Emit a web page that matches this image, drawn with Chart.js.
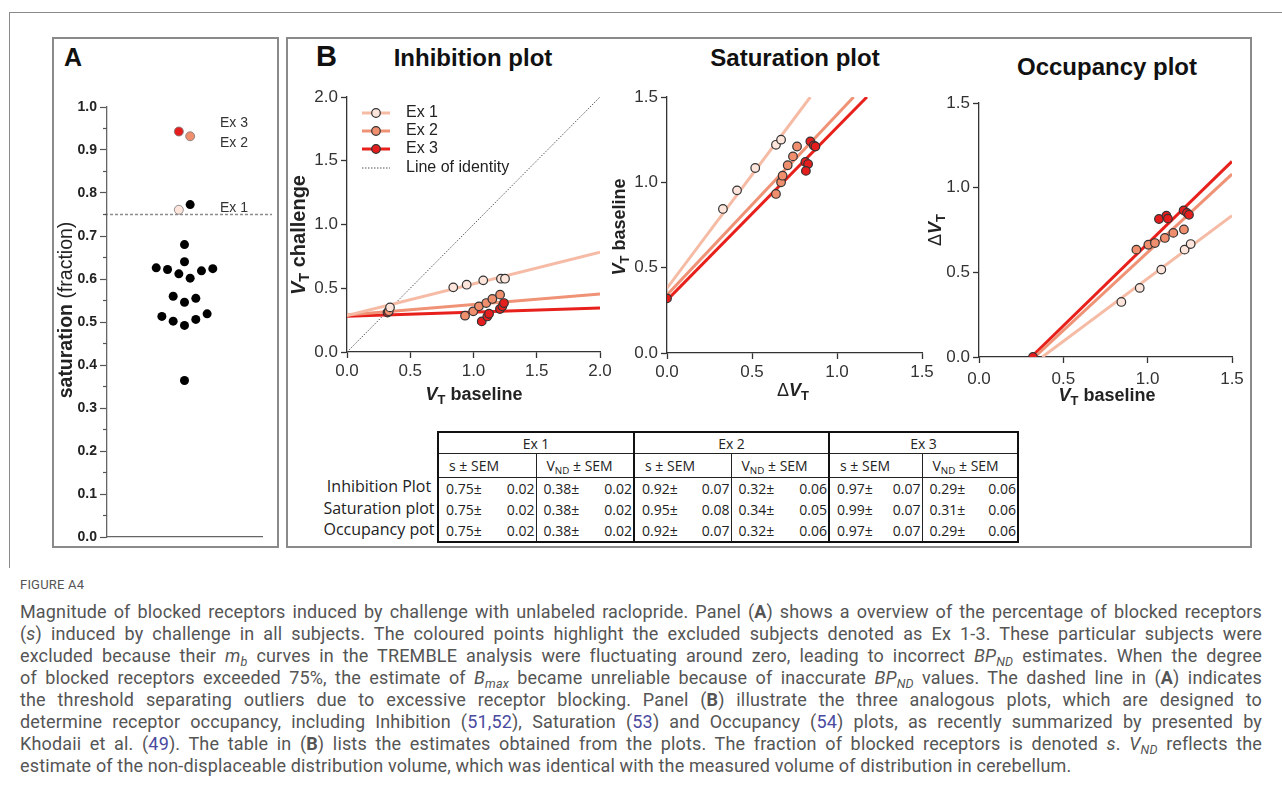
<!DOCTYPE html>
<html>
<head>
<meta charset="utf-8">
<script src="https://cdn.jsdelivr.net/npm/chart.js@4.4.1/dist/chart.umd.min.js"></script>
<style>
  body { margin: 0; width: 1282px; height: 800px; position: relative; overflow: hidden; background: #fff;
         font-family: "Liberation Sans", Arial, sans-serif; color: #222; }
  .abs { position: absolute; }
  .frame { position: absolute; border: 2px solid #8a8a8a; box-sizing: border-box; }
  .panel-letter { position: absolute; font-weight: bold; line-height: 1; color: #111; }
  .title { position: absolute; width: 300px; text-align: center; font-weight: bold; font-size: 24px; line-height: 28px; color: #111; }
  .axt { position: absolute; text-align: center; font-size: 18px; line-height: 22px; font-weight: bold; color: #222; white-space: nowrap; }
  .axt i { font-style: italic; }
  .axt sub { font-size: 0.72em; vertical-align: -0.3em; line-height: 0; }
  .axt .d { font-weight: normal; }
  .rot { transform: rotate(-90deg); transform-origin: 50% 50%; }
  .exlab { position: absolute; font-size: 14px; line-height: 16px; color: #333; }
  canvas { display: block; }
  #tbl { position: absolute; left: 437px; top: 431px; border-collapse: collapse; font-family: "Open Sans", sans-serif;
         font-size: 14px; color: #222; border: 2px solid #111; }
  #tbl td { padding: 0; border-left: 1.5px solid #222; white-space: nowrap; }
  #tbl td.grp { border-left: 2px solid #111; }
  #tbl tr.h1 td { height: 20px; text-align: center; border-bottom: 1.5px solid #222; }
  #tbl tr.h2 td { height: 23px; text-align: left; padding-left: 10px; border-bottom: 1.5px solid #222; }
  #tbl tr.dr td { height: 21px; }
  #tbl sub { font-size: 0.7em; vertical-align: -0.3em; line-height: 0; }
  .cell { display: flex; justify-content: space-between; padding: 0 1px 0 7px; }
  .rowlab { position: absolute; width: 140px; text-align: center; font-family: "Open Sans", sans-serif; font-size: 16px; line-height: 18px; color: #222; }
  #cap { position: absolute; left: 20px; top: 576px; width: 1242px; font-family: Roboto, sans-serif; color: #555; }
  #cap .fig { font-size: 13px; line-height: 18px; margin-bottom: 7px; letter-spacing: 0.2px; }
  #cap .ln { font-size: 18px; line-height: 22px; letter-spacing: 0.15px; text-align: justify; text-align-last: justify; }
  #cap .ln.last { text-align-last: left; }
  #cap sub { font-size: 0.7em; vertical-align: -0.3em; line-height: 0; }
  #cap .ref { color: #4a4aa0; }
</style>
</head>
<body>
<!-- outer figure frame (top and left edge only visible) -->
<div class="abs" style="left:9px; top:12px; width:1300px; border-top:1.5px solid #8a8a8a;"></div>
<div class="abs" style="left:9px; top:12px; height:556px; border-left:1.5px solid #8a8a8a;"></div>

<div class="frame" style="left:52px; top:37px; width:227px; height:511px;"></div>
<div class="frame" style="left:286px; top:37px; width:966px; height:511px;"></div>

<div class="panel-letter" style="left:64px; top:45px; font-size:25px;">A</div>
<div class="panel-letter" style="left:316px; top:42px; font-size:29px;">B</div>

<div class="title" style="left:323px; top:44px;">Inhibition plot</div>
<div class="title" style="left:645px; top:44px;">Saturation plot</div>
<div class="title" style="left:957px; top:53px;">Occupancy plot</div>

<div class="abs" style="left:55px; top:90px;"><canvas id="chartA" width="222" height="465"></canvas></div>
<div class="abs" style="left:290px; top:80px;"><canvas id="chartInh" width="325" height="320"></canvas></div>
<div class="abs" style="left:615px; top:80px;"><canvas id="chartSat" width="325" height="320"></canvas></div>
<div class="abs" style="left:940px; top:80px;"><canvas id="chartOcc" width="310" height="325"></canvas></div>

<!-- panel A annotations -->
<div class="exlab" style="left:220px; top:114px;">Ex 3</div>
<div class="exlab" style="left:220px; top:134px;">Ex 2</div>
<div class="exlab" style="left:220px; top:199px;">Ex 1</div>
<div class="axt rot" style="left:-35px; top:299px; width:200px; font-size:19.5px;">saturation <span class="d">(fraction)</span></div>

<!-- axis titles, panel B -->
<div class="axt" style="left:374px; top:383px; width:200px;"><i>V</i><sub>T</sub> baseline</div>
<div class="axt rot" style="left:198px; top:224px; width:200px; font-size:20px;"><i>V</i><sub>T</sub> challenge</div>
<div class="axt" style="left:693px; top:379px; width:200px;"><span class="d">&Delta;</span><i>V</i><sub>T</sub></div>
<div class="axt rot" style="left:519px; top:216px; width:200px;"><i>V</i><sub>T</sub> baseline</div>
<div class="axt rot" style="left:835px; top:219px; width:200px;"><span class="d">&Delta;</span><i>V</i><sub>T</sub></div>
<div class="axt" style="left:1007px; top:384px; width:200px;"><i>V</i><sub>T</sub> baseline</div>

<!-- estimates table -->
<div id="rowlabs"></div>
<table id="tbl"></table>

<div id="cap">
  <div class="fig">FIGURE A4</div>
  <div class="ln">Magnitude of blocked receptors induced by challenge with unlabeled raclopride. Panel (<b>A</b>) shows a overview of the percentage of blocked receptors</div>
  <div class="ln">(<i>s</i>) induced by challenge in all subjects. The coloured points highlight the excluded subjects denoted as Ex 1-3. These particular subjects were</div>
  <div class="ln">excluded because their <i>m<sub>b</sub></i> curves in the TREMBLE analysis were fluctuating around zero, leading to incorrect <i>BP<sub>ND</sub></i> estimates. When the degree</div>
  <div class="ln">of blocked receptors exceeded 75%, the estimate of <i>B<sub>max</sub></i> became unreliable because of inaccurate <i>BP<sub>ND</sub></i> values. The dashed line in (<b>A</b>) indicates</div>
  <div class="ln">the threshold separating outliers due to excessive receptor blocking. Panel (<b>B</b>) illustrate the three analogous plots, which are designed to</div>
  <div class="ln">determine receptor occupancy, including Inhibition (<span class="ref">51,52</span>), Saturation (<span class="ref">53</span>) and Occupancy (<span class="ref">54</span>) plots, as recently summarized by presented by</div>
  <div class="ln">Khodaii et al. (<span class="ref">49</span>). The table in (<b>B</b>) lists the estimates obtained from the plots. The fraction of blocked receptors is denoted <i>s</i>. <i>V<sub>ND</sub></i> reflects the</div>
  <div class="ln last">estimate of the non-displaceable distribution volume, which was identical with the measured volume of distribution in cerebellum.</div>
</div>

<script>
// ---- panel A: saturation per subject (x = column offset in the swarm) ----
const satBlackX = [1, 0, 0, -5, -3, -1, 1, 3, 5, -2, 0, 2, -4, -2, 0, 2, 4, 0];
const satBlackY = [0.773, 0.680, 0.640, 0.626, 0.622, 0.612, 0.602, 0.619, 0.624, 0.560, 0.546, 0.555, 0.513, 0.502, 0.492, 0.506, 0.519, 0.364];
const satExX = [-1, 1, -1];          // Ex 1, Ex 2, Ex 3
const satExY = [0.761, 0.932, 0.943];
const threshold = 0.75;

// ---- inhibition plot: V_T baseline vs V_T challenge ----
const inhEx1Base = [0.34, 0.84, 0.946, 1.077, 1.217, 1.249];
const inhEx1Chal = [0.35, 0.507, 0.528, 0.562, 0.575, 0.575];
const inhEx2Base = [0.33, 0.933, 0.998, 1.043, 1.101, 1.149, 1.21];
const inhEx2Chal = [0.32, 0.285, 0.319, 0.358, 0.384, 0.416, 0.45];
const inhEx3Base = [0.32, 1.065, 1.109, 1.123, 1.209, 1.228, 1.241];
const inhEx3Chal = [0.31, 0.24, 0.279, 0.30, 0.337, 0.358, 0.384];

// ---- saturation plot: delta V_T vs V_T baseline ----
const satEx1Delta = [0.329, 0.412, 0.519, 0.641, 0.671];
const satEx1Base = [0.844, 0.953, 1.084, 1.220, 1.250];
const satEx2Delta = [0.641, 0.671, 0.68, 0.71, 0.741, 0.765];
const satEx2Base = [0.932, 1.0, 1.039, 1.10, 1.152, 1.21];
const satEx3Delta = [0, 0.814, 0.83, 0.817, 0.843, 0.863, 0.873];
const satEx3Base = [0.32, 1.119, 1.107, 1.067, 1.24, 1.216, 1.21];

// ---- occupancy plot: V_T baseline vs delta V_T ----
const occEx1Base = [0.844, 0.953, 1.081, 1.219, 1.255];
const occEx1Delta = [0.325, 0.408, 0.516, 0.634, 0.667];
const occEx2Base = [0.933, 1.004, 1.043, 1.102, 1.152, 1.215];
const occEx2Delta = [0.634, 0.663, 0.673, 0.703, 0.733, 0.753];
const occEx3Base = [0.32, 1.067, 1.111, 1.12, 1.213, 1.233, 1.245];
const occEx3Delta = [0, 0.815, 0.835, 0.817, 0.866, 0.851, 0.84];

// fitted lines, [x0, y0, x1, y1]
const inhLines = [[0, 0.285, 2, 0.782], [0, 0.29, 2, 0.455], [0, 0.28, 2, 0.345]];
const satLines = [[0, 0.38, 0.843, 1.5], [0, 0.34, 1.098, 1.5], [0, 0.31, 1.176, 1.5]];
const occLines = [[0.375, 0, 1.5, 0.835], [0.33, 0, 1.5, 1.08], [0.31, 0, 1.5, 1.155]];
const identityLine = [0, 0, 2, 2];

// ---- table of estimates (rows = plot, columns = Ex 1..3) ----
const tableExs = ['Ex 1', 'Ex 2', 'Ex 3'];
const tablePlots = ['Inhibition Plot', 'Saturation plot', 'Occupancy pot'];
const sMean = [[0.75, 0.92, 0.97], [0.75, 0.95, 0.99], [0.75, 0.92, 0.97]];
const sSem = [[0.02, 0.07, 0.07], [0.02, 0.08, 0.07], [0.02, 0.07, 0.07]];
const vndMean = [[0.38, 0.32, 0.29], [0.38, 0.34, 0.31], [0.38, 0.32, 0.29]];
const vndSem = [[0.02, 0.06, 0.06], [0.02, 0.05, 0.06], [0.02, 0.06, 0.06]];

const exLabels = ['Ex 1', 'Ex 2', 'Ex 3'];
const exFill = ['#fde5dc', '#f08f6e', '#e61d1d'];
const exLine = ['#f6bba5', '#ef9276', '#e8201c'];

const zip = (xs, ys) => xs.map((x, i) => ({ x: x, y: ys[i] }));
const seg = (l) => [{ x: l[0], y: l[1] }, { x: l[2], y: l[3] }];

const tickFont = { family: 'Liberation Sans', size: 17 };

function pointSet(i, data, order) {
  return {
    label: exLabels[i], data: data, order: order,
    pointRadius: 4.3, pointHoverRadius: 4.3, pointBorderWidth: 1.2,
    pointBorderColor: '#333', pointBackgroundColor: exFill[i], showLine: false
  };
}
function lineSet(i, l) {
  return {
    label: exLabels[i] + ' fit', data: seg(l), order: 10 + i, showLine: true,
    pointRadius: 0, borderColor: exLine[i], borderWidth: 3, borderCapStyle: 'butt'
  };
}

function plotOptions(maxV, yW, xH, pad, xPad) {
  const axis = (fitKey, fitVal, tp) => ({
    type: 'linear', min: 0, max: maxV,
    ticks: { stepSize: 0.5, callback: v => Number(v).toFixed(1), font: tickFont, color: '#333', padding: tp, maxRotation: 0 },
    grid: { drawOnChartArea: false, tickLength: 6, color: '#333', tickWidth: 1.3 },
    border: { color: '#333', width: 1.3 },
    afterFit: s => { s[fitKey] = fitVal; }
  });
  return {
    responsive: false, animation: false,
    layout: { padding: pad },
    plugins: { legend: { display: false }, tooltip: { enabled: false } },
    scales: { x: axis('height', xH, xPad), y: axis('width', yW, 3) }
  };
}

// legend drawn inside the inhibition plot
const inhLegend = {
  id: 'inhLegend',
  afterDraw(chart) {
    const ctx = chart.ctx;
    const rowsY = [33, 51, 69, 88];
    ctx.save();
    ctx.font = '16px "Liberation Sans"';
    ctx.textBaseline = 'middle';
    for (let i = 0; i < 3; i++) {
      ctx.strokeStyle = exLine[i]; ctx.lineWidth = 3;
      ctx.beginPath(); ctx.moveTo(72, rowsY[i]); ctx.lineTo(100, rowsY[i]); ctx.stroke();
      ctx.fillStyle = exFill[i]; ctx.strokeStyle = '#333'; ctx.lineWidth = 1.2;
      ctx.beginPath(); ctx.arc(86, rowsY[i], 4.3, 0, Math.PI * 2); ctx.fill(); ctx.stroke();
      ctx.fillStyle = '#222'; ctx.fillText(exLabels[i], 116, rowsY[i]);
    }
    ctx.strokeStyle = '#555'; ctx.lineWidth = 1; ctx.setLineDash([1.5, 1.5]);
    ctx.beginPath(); ctx.moveTo(72, rowsY[3]); ctx.lineTo(100, rowsY[3]); ctx.stroke();
    ctx.setLineDash([]);
    ctx.fillStyle = '#222'; ctx.fillText('Line of identity', 116, rowsY[3]);
    ctx.restore();
  }
};

// ---- panel A ----
const isMajor = v => Math.round(v * 100) % 10 === 0;
const panelAExtras = {
  id: 'panelAExtras',
  beforeDatasetsDraw(chart) {
    const ctx = chart.ctx, y = chart.scales.y.getPixelForValue(threshold);
    ctx.save();
    ctx.strokeStyle = '#8c8c8c'; ctx.lineWidth = 1.5; ctx.setLineDash([3, 2]);
    ctx.beginPath(); ctx.moveTo(chart.chartArea.left - 2, y); ctx.lineTo(chart.chartArea.right + 10, y); ctx.stroke();
    ctx.restore();
  },
  afterDraw(chart) {
    const ctx = chart.ctx, sc = chart.scales.y, left = chart.chartArea.left;
    ctx.save(); ctx.strokeStyle = '#555'; ctx.lineWidth = 1.2;
    sc.ticks.forEach(t => {
      if (isMajor(t.value)) return;
      const y = sc.getPixelForValue(t.value);
      ctx.beginPath(); ctx.moveTo(left - 4, y); ctx.lineTo(left, y); ctx.stroke();
    });
    ctx.restore();
  }
};

new Chart(document.getElementById('chartA'), {
  type: 'scatter',
  data: {
    datasets: [
      ...[2, 1, 0].map((i, k) => ({
        label: exLabels[i], data: [{ x: satExX[i], y: satExY[i] }], order: k,
        pointRadius: 4.5, pointBorderWidth: 0.8, pointBorderColor: '#777', pointBackgroundColor: exFill[i]
      })),
      { label: 'subjects', data: zip(satBlackX, satBlackY), order: 5, pointRadius: 4.5, pointBorderWidth: 0, pointBackgroundColor: '#000' }
    ]
  },
  options: {
    responsive: false, animation: false,
    layout: { padding: { top: 17, right: 15, left: 0, bottom: 0 } },
    plugins: { legend: { display: false }, tooltip: { enabled: false } },
    scales: {
      x: {
        type: 'linear', min: -13.7, max: 13.7,
        ticks: { display: false }, grid: { drawOnChartArea: false, drawTicks: false },
        border: { color: '#666', width: 1.3 },
        afterFit: s => { s.height = 18; }
      },
      y: {
        type: 'linear', min: 0, max: 1,
        ticks: { stepSize: 0.05, autoSkip: false, callback: v => isMajor(v) ? Number(v).toFixed(1) : '',
                 font: { family: 'Liberation Sans', size: 14, weight: 'bold' }, color: '#222', padding: 3 },
        grid: { drawOnChartArea: false, tickLength: 7, tickWidth: 1.2,
                tickColor: c => (c.tick && isMajor(c.tick.value)) ? '#555' : 'rgba(0,0,0,0)' },
        border: { color: '#666', width: 1.3 },
        afterFit: s => { s.width = 52; }
      }
    }
  },
  plugins: [panelAExtras]
});

// ---- inhibition ----
new Chart(document.getElementById('chartInh'), {
  type: 'scatter',
  data: {
    datasets: [
      pointSet(0, zip(inhEx1Base, inhEx1Chal), 1),
      pointSet(1, zip(inhEx2Base, inhEx2Chal), 2),
      pointSet(2, zip(inhEx3Base, inhEx3Chal), 3),
      lineSet(0, inhLines[0]), lineSet(1, inhLines[1]), lineSet(2, inhLines[2]),
      { label: 'Line of identity', data: seg(identityLine), order: 20, showLine: true, pointRadius: 0,
        borderColor: '#555', borderWidth: 1, borderDash: [1.5, 1.5] }
    ]
  },
  options: plotOptions(2, 57, 48, { top: 17, right: 15, left: 0, bottom: 0 }, 3),
  plugins: [inhLegend]
});

// ---- saturation ----
new Chart(document.getElementById('chartSat'), {
  type: 'scatter',
  data: {
    datasets: [
      pointSet(2, zip(satEx3Delta, satEx3Base), 1),
      pointSet(1, zip(satEx2Delta, satEx2Base), 2),
      pointSet(0, zip(satEx1Delta, satEx1Base), 3),
      lineSet(0, satLines[0]), lineSet(1, satLines[1]), lineSet(2, satLines[2])
    ]
  },
  options: plotOptions(1.5, 52, 47, { top: 17, right: 18, left: 0, bottom: 0 }, 3)
});

// ---- occupancy ----
new Chart(document.getElementById('chartOcc'), {
  type: 'scatter',
  data: {
    datasets: [
      pointSet(2, zip(occEx3Base, occEx3Delta), 1),
      pointSet(1, zip(occEx2Base, occEx2Delta), 2),
      pointSet(0, zip(occEx1Base, occEx1Delta), 3),
      lineSet(0, occLines[0]), lineSet(1, occLines[1]), lineSet(2, occLines[2])
    ]
  },
  options: plotOptions(1.5, 39, 48, { top: 23, right: 18, left: 0, bottom: 0 }, 6)
});

// ---- table ----
const colW = [98, 98, 97, 98, 93, 96];
const tbl = document.getElementById('tbl');
let html = '<colgroup>' + colW.map(w => '<col style="width:' + w + 'px">').join('') + '</colgroup>';
html += '<tr class="h1">' + tableExs.map((e, i) => '<td colspan="2" class="' + (i ? 'grp' : '') + '">' + e + '</td>').join('') + '</tr>';
html += '<tr class="h2">' + tableExs.map((e, i) => '<td class="' + (i ? 'grp' : '') + '">s &plusmn; SEM</td><td>V<sub>ND</sub> &plusmn; SEM</td>').join('') + '</tr>';
tablePlots.forEach((p, r) => {
  html += '<tr class="dr">';
  for (let c = 0; c < 3; c++) {
    html += '<td class="' + (c ? 'grp' : '') + '"><div class="cell"><span>' + sMean[r][c].toFixed(2) + '&plusmn;</span><span>' + sSem[r][c].toFixed(2) + '</span></div></td>';
    html += '<td><div class="cell"><span>' + vndMean[r][c].toFixed(2) + '&plusmn;</span><span>' + vndSem[r][c].toFixed(2) + '</span></div></td>';
  }
  html += '</tr>';
});
tbl.innerHTML = html;

const rowTops = [477, 499, 520];
document.getElementById('rowlabs').innerHTML = tablePlots.map((p, r) =>
  '<div class="rowlab" style="left:309px; top:' + rowTops[r] + 'px;">' + p + '</div>').join('');
</script>
</body>
</html>
